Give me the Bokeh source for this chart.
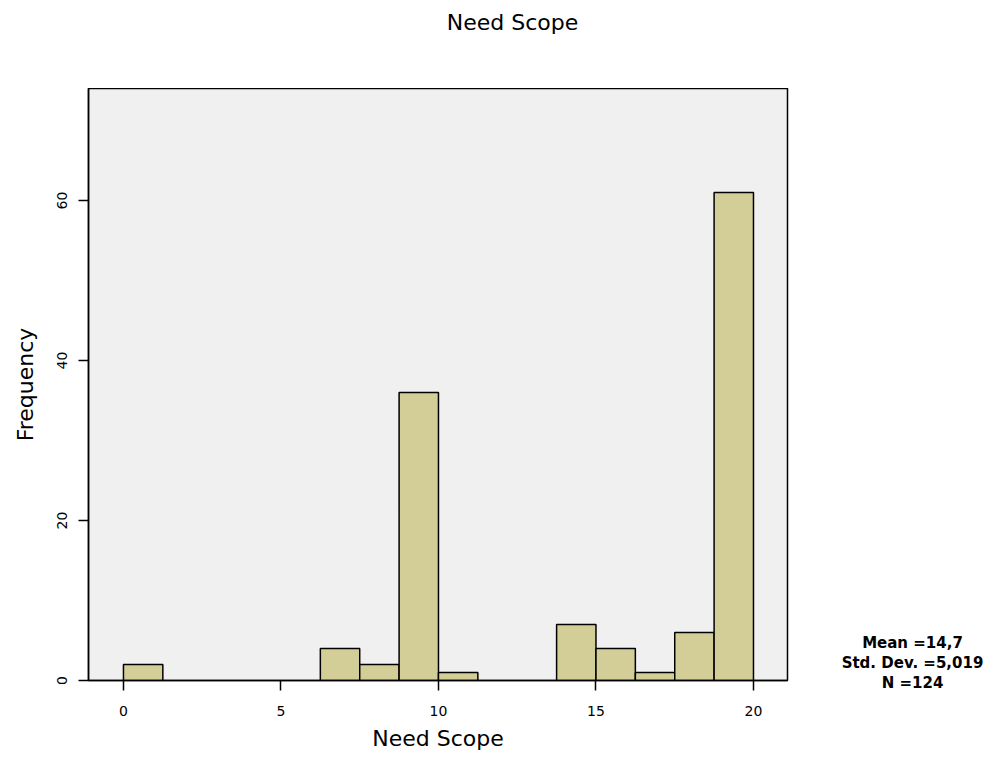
from bokeh.plotting import figure
from bokeh.models import Range1d, FixedTicker
from bokeh.layouts import column, row
from bokeh.core.properties import value
from bokeh.embed import file_html
from bokeh.resources import INLINE

# ---- data ----
bin_left = [0.0, 1.25, 2.5, 3.75, 5.0, 6.25, 7.5, 8.75, 10.0, 11.25, 12.5, 13.75, 15.0, 16.25, 17.5, 18.75]
bin_right = [1.25, 2.5, 3.75, 5.0, 6.25, 7.5, 8.75, 10.0, 11.25, 12.5, 13.75, 15.0, 16.25, 17.5, 18.75, 20.0]
counts = [2, 0, 0, 0, 0, 4, 2, 36, 1, 0, 0, 7, 4, 1, 6, 61]
x_ticks = [0, 5, 10, 15, 20]
y_ticks = [0, 20, 40, 60]
title_text = "Need Scope"
x_label = "Need Scope"
y_label = "Frequency"
stats_lines = ["Mean =14,7", "Std. Dev. =5,019", "N =124"]

FONT = "DejaVu Sans"
TOTAL_W, TOTAL_H = 986, 755
TOP_H = 88          # title strip height (frame top in page px)
MAIN_W = 800        # main figure width (frame right at 787)
MAIN_H = TOTAL_H - TOP_H
SIDE_W = TOTAL_W - MAIN_W


def no_align(f):
    try:
        f.frame_align = False
    except Exception:
        pass


def blank_fig(w, h):
    f = figure(width=w, height=h, output_backend="svg", toolbar_location=None,
               x_range=Range1d(0, w), y_range=Range1d(h, 0),
               x_axis_type=None, y_axis_type=None,
               min_border=0, min_border_left=0, min_border_right=0,
               min_border_top=0, min_border_bottom=0)
    f.outline_line_color = None
    f.background_fill_color = "white"
    f.border_fill_color = "white"
    f.xgrid.visible = False
    f.ygrid.visible = False
    no_align(f)
    return f


# ---- title strip ----
t = blank_fig(TOTAL_W, TOP_H)
t.text(x=[512], y=[22], text=[title_text], text_align="center", text_baseline="middle",
       text_font=value(FONT), text_font_size="22px", text_color="black")

# ---- main histogram ----
p = figure(width=MAIN_W, height=MAIN_H, output_backend="svg", toolbar_location=None,
           x_range=Range1d(-1.11, 21.08), y_range=Range1d(0, 74),
           min_border_left=88, min_border_top=0, min_border_right=MAIN_W - 787,
           min_border_bottom=75)
no_align(p)

p.background_fill_color = "#F0F0F0"
p.border_fill_color = "white"
p.outline_line_color = "black"
p.outline_line_width = 1.5
p.xgrid.visible = False
p.ygrid.visible = False

sel = [i for i, c in enumerate(counts) if c > 0]
p.quad(left=[bin_left[i] for i in sel], right=[bin_right[i] for i in sel],
       bottom=0, top=[counts[i] for i in sel],
       fill_color="#D3CE97", line_color="black", line_width=1.5)

for ax in (p.xaxis[0], p.yaxis[0]):
    ax.axis_line_color = "black"
    ax.axis_line_width = 1.5
    ax.major_tick_line_color = "black"
    ax.major_tick_line_width = 1.5
    ax.major_tick_out = 10
    ax.major_tick_in = 0
    ax.minor_tick_line_color = None
    ax.major_label_text_font = FONT
    ax.major_label_text_font_size = "14px"
    ax.major_label_text_color = "black"
    ax.axis_label_text_font = FONT
    ax.axis_label_text_font_size = "22px"
    ax.axis_label_text_font_style = "normal"
    ax.axis_label_text_color = "black"

p.xaxis.ticker = FixedTicker(ticks=x_ticks)
p.yaxis.ticker = FixedTicker(ticks=y_ticks)
p.xaxis.axis_label = x_label
p.yaxis.axis_label = y_label
p.xaxis.major_label_standoff = 15
p.xaxis.axis_label_standoff = 7
p.yaxis.major_label_standoff = 12
p.yaxis.axis_label_standoff = 16
p.yaxis.major_label_orientation = "vertical"

# ---- side strip with statistics ----
s = blank_fig(SIDE_W, MAIN_H)
s.text(x=[912 - MAIN_W] * len(stats_lines),
       y=[642 - TOP_H + 20 * i for i in range(len(stats_lines))],
       text=stats_lines, text_align="center", text_baseline="middle",
       text_font=value(FONT), text_font_size="15px", text_font_style="bold",
       text_color="black")

layout = column(t, row(p, column(s, spacing=0), spacing=0), spacing=0)

open("out.html", "w").write(file_html(layout, INLINE))
